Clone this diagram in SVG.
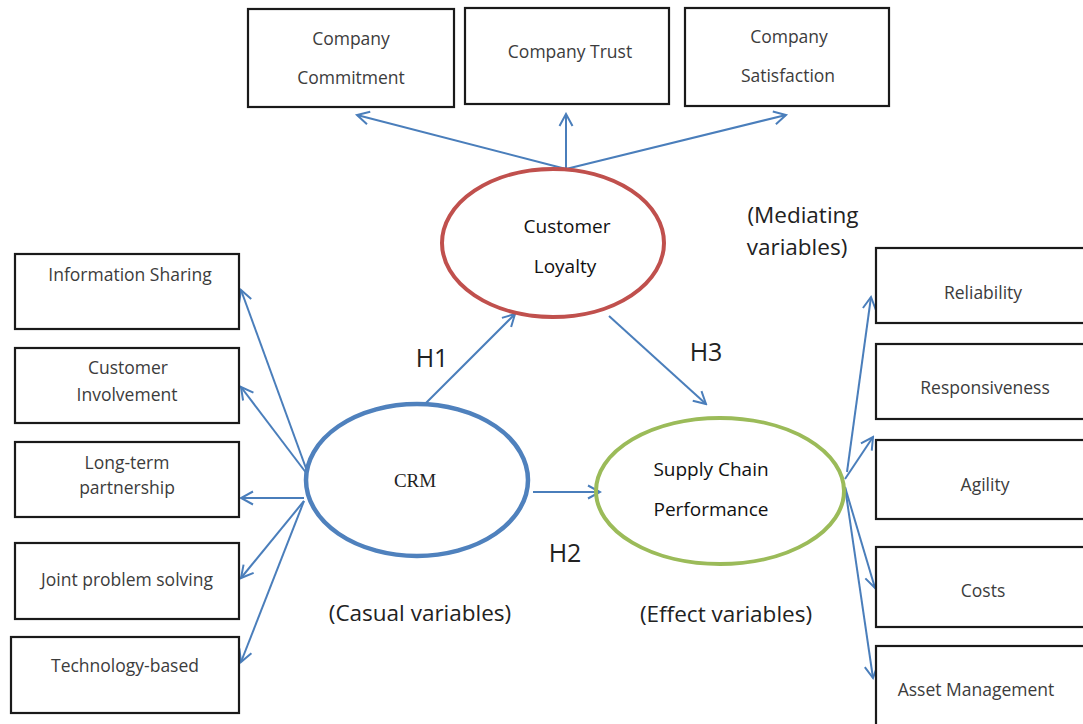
<svg xmlns="http://www.w3.org/2000/svg" width="1083" height="724" viewBox="0 0 1083 724">
<style>
.box{fill:#fff;stroke:#1a1a1a;stroke-width:2.2}
.bt{font-family:"Open Sans","Noto Sans",sans-serif;font-size:17.5px;fill:#3c3c3c;text-anchor:middle}
.et{font-family:"Open Sans","Noto Sans",sans-serif;font-size:19px;fill:#111;text-anchor:middle}
.lbl{font-family:"Open Sans","Noto Sans",sans-serif;font-size:22.5px;fill:#222;text-anchor:middle}
.h{font-family:"Open Sans","Noto Sans",sans-serif;font-size:25px;fill:#222;text-anchor:middle}
.con{stroke:#4A7EBB;stroke-width:2;fill:none;marker-end:url(#arr)}
</style>
<defs>
<marker id="arr" markerUnits="userSpaceOnUse" markerWidth="16" markerHeight="16" viewBox="0 0 16 16" refX="14" refY="8" orient="auto">
<path d="M2,1.5 L14,8 L2,14.5" fill="none" stroke="#4A7EBB" stroke-width="2"/>
</marker>
</defs>
<rect width="1083" height="724" fill="#fff"/>
<g id="connectors">
<path class="con" d="M566,169 L357,115"/>
<path class="con" d="M566,169 L566,114"/>
<path class="con" d="M566,169 L786,115"/>
<path class="con" d="M424,405 L515,314"/>
<path class="con" d="M609,316 L706,404"/>
<path class="con" d="M533,492 L600,492"/>
<path class="con" d="M307,471 L241,290"/>
<path class="con" d="M307,474 L241,387"/>
<path class="con" d="M304,498 L241,498"/>
<path class="con" d="M304,501 L241,578"/>
<path class="con" d="M304,501 L241,662"/>
<path class="con" d="M847,472 L871,297"/>
<path class="con" d="M845,479 L873,437"/>
<path class="con" d="M845,487 L875,588"/>
<path class="con" d="M845,487 L873,678"/>
</g>
<g id="company-commitment"><rect class="box" x="248" y="9" width="206" height="98"/><text class="bt" x="351" y="45">Company</text><text class="bt" x="351" y="84">Commitment</text></g>
<g id="company-trust"><rect class="box" x="465" y="8" width="204" height="96"/><text class="bt" x="570" y="58">Company Trust</text></g>
<g id="company-satisfaction"><rect class="box" x="685" y="8" width="204" height="98"/><text class="bt" x="789" y="43">Company</text><text class="bt" x="788" y="82">Satisfaction</text></g>
<g id="customer-loyalty"><ellipse cx="553" cy="243" rx="111" ry="74" fill="none" stroke="#C0504D" stroke-width="4"/><text class="et" x="567" y="233">Customer</text><text class="et" x="565" y="273">Loyalty</text></g>
<g id="crm"><ellipse cx="417" cy="480" rx="111" ry="76" fill="none" stroke="#4F81BD" stroke-width="4.5"/><text x="415" y="487" font-family="Liberation Serif,serif" font-size="19" fill="#222" text-anchor="middle">CRM</text></g>
<g id="supply-chain-performance"><ellipse cx="720" cy="491" rx="124" ry="73" fill="none" stroke="#9BBB59" stroke-width="4"/><text class="et" x="711" y="476">Supply Chain</text><text class="et" x="711" y="516">Performance</text></g>
<g id="information-sharing"><rect class="box" x="15" y="254" width="224" height="75"/><text class="bt" x="130" y="281">Information Sharing</text></g>
<g id="customer-involvement"><rect class="box" x="15" y="348" width="224" height="75"/><text class="bt" x="128" y="374">Customer</text><text class="bt" x="127" y="401">Involvement</text></g>
<g id="long-term-partnership"><rect class="box" x="15" y="442" width="224" height="75"/><text class="bt" x="127" y="469">Long-term</text><text class="bt" x="127" y="494">partnership</text></g>
<g id="joint-problem-solving"><rect class="box" x="15" y="543" width="224" height="76"/><text class="bt" x="127" y="586">Joint problem solving</text></g>
<g id="technology-based"><rect class="box" x="11" y="637" width="228" height="76"/><text class="bt" x="125" y="672">Technology-based</text></g>
<g id="reliability"><rect class="box" x="876" y="248" width="210" height="75"/><text class="bt" x="983" y="299">Reliability</text></g>
<g id="responsiveness"><rect class="box" x="876" y="344" width="210" height="75"/><text class="bt" x="985" y="394">Responsiveness</text></g>
<g id="agility"><rect class="box" x="876" y="440" width="210" height="79"/><text class="bt" x="985" y="491">Agility</text></g>
<g id="costs"><rect class="box" x="876" y="547" width="210" height="80"/><text class="bt" x="983" y="597">Costs</text></g>
<g id="asset-management"><rect class="box" x="876" y="646" width="210" height="90"/><text class="bt" x="976" y="696">Asset Management</text></g>
<g id="labels">
<text class="lbl" x="803" y="223">(Mediating</text>
<text class="lbl" x="797" y="255">variables)</text>
<text class="h" x="432" y="367">H1</text>
<text class="h" x="706" y="361">H3</text>
<text class="h" x="565" y="562">H2</text>
<text class="lbl" x="420" y="621">(Casual variables)</text>
<text class="lbl" x="726" y="622">(Effect variables)</text>
</g>
</svg>
